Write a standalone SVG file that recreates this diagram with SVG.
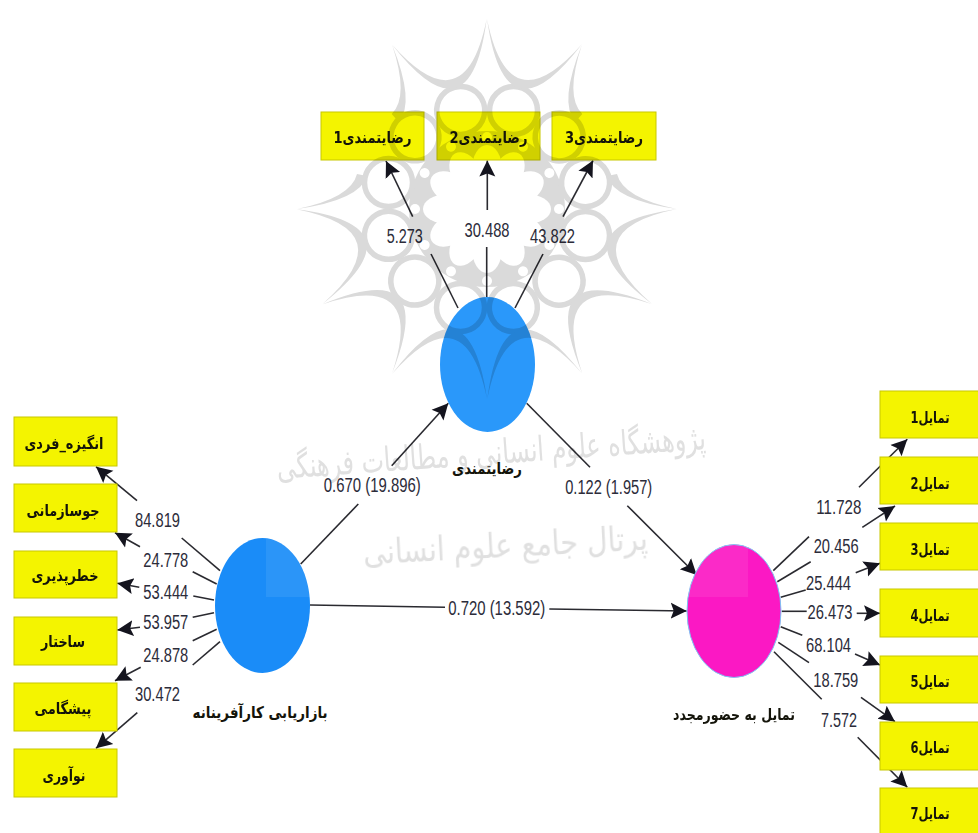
<svg xmlns="http://www.w3.org/2000/svg" xmlns:xlink="http://www.w3.org/1999/xlink" width="978" height="833" viewBox="0 0 978 833">
<style>
.c{stroke:#2a2a30;stroke-width:1.6;fill:none}
.a{marker-end:url(#ah)}
.box{fill:#f4f400;stroke:#c8c800;stroke-width:1}
.n{font-family:"Liberation Sans",Arial,sans-serif;font-size:20px;fill:#2c2c3a;text-anchor:middle}
.t{font-family:"DejaVu Sans",sans-serif;font-size:16px;font-weight:bold;fill:#14140a;text-anchor:middle;direction:rtl}
.wm{mix-blend-mode:multiply}
.wt{font-family:"DejaVu Sans",sans-serif;font-size:34px;fill:#e0e0e0;text-anchor:middle;direction:rtl}
.g{fill:#dadada}
.r{fill:none;stroke:#dadada;stroke-width:5.5}
.sh{fill:#fff;fill-opacity:.08}
.soft{filter:blur(.55px)}
</style>
<defs>
<marker id="ah" markerUnits="userSpaceOnUse" markerWidth="18" markerHeight="18" refX="16" refY="9" orient="auto">
<path d="M0,1 L16,9 L0,17 L3,9 Z" fill="#14141e"/>
</marker>
<clipPath id="cpL"><ellipse cx="262.5" cy="605.5" rx="47.5" ry="67.5"/></clipPath>
<clipPath id="cpP"><ellipse cx="734" cy="611" rx="47" ry="66.5"/></clipPath>
<path id="cr" class="g" d="M0,-190 Q22,-82 95,-165 Q18,-64 0,-190 Z"/>
<path id="hc" class="g" d="M0,-190 Q11,-136 35,-130 L33,-120 Q9,-127 0,-190 Z"/>
<circle id="rc" class="r" cx="26.5" cy="-98.5" r="24"/>
<g id="pet">
<ellipse cx="0" cy="-40" rx="15" ry="24" fill="#fff"/>
<circle cx="0" cy="-72" r="5" fill="#fff"/>
</g>
</defs>

<g id="diagram" class="soft">
<rect x="0" y="0" width="978" height="833" fill="#fff"/>
<g id="connectors">
<line class="c" x1="431" y1="254" x2="458" y2="308"/>
<line class="c a" x1="412.7" y1="216.7" x2="386" y2="161"/>
<line class="c" x1="486.7" y1="247" x2="486.7" y2="297"/>
<line class="c a" x1="487.3" y1="210" x2="487.3" y2="160.5"/>
<line class="c" x1="543" y1="254" x2="515" y2="308"/>
<line class="c a" x1="563" y1="216.7" x2="593" y2="160.5"/>

<line class="c" x1="220" y1="570.7" x2="181.7" y2="538"/>
<line class="c a" x1="137" y1="500.7" x2="96" y2="466.7"/>
<line class="c" x1="216.7" y1="584" x2="192.7" y2="571.7"/>
<line class="c a" x1="140" y1="546.7" x2="115" y2="532.7"/>
<line class="c" x1="214" y1="600" x2="193.3" y2="596"/>
<line class="c a" x1="139.3" y1="587.3" x2="117.3" y2="583.3"/>
<line class="c" x1="214" y1="612.7" x2="192.7" y2="617.3"/>
<line class="c a" x1="140" y1="627.3" x2="117.3" y2="630"/>
<line class="c" x1="216.7" y1="629.3" x2="192.7" y2="640.7"/>
<line class="c a" x1="140.7" y1="667.3" x2="115" y2="680.7"/>
<line class="c" x1="220" y1="641.7" x2="192.7" y2="665"/>
<line class="c a" x1="137.3" y1="712.7" x2="96" y2="748.3"/>

<line class="c" x1="773.3" y1="570.7" x2="809" y2="536.7"/>
<line class="c a" x1="859" y1="487.3" x2="907.3" y2="439.3"/>
<line class="c" x1="777.3" y1="581.7" x2="810.7" y2="561.7"/>
<line class="c a" x1="862.3" y1="527.3" x2="895" y2="506"/>
<line class="c" x1="780.7" y1="597.3" x2="805.7" y2="590"/>
<line class="c a" x1="855.7" y1="572.7" x2="880" y2="563.3"/>
<line class="c" x1="781.7" y1="611.3" x2="806.7" y2="611.3"/>
<line class="c a" x1="856.7" y1="613.3" x2="880" y2="613.3"/>
<line class="c" x1="780.7" y1="626.7" x2="802.3" y2="635.3"/>
<line class="c a" x1="855" y1="654" x2="880" y2="665"/>
<line class="c" x1="778.3" y1="642.3" x2="809" y2="662.7"/>
<line class="c a" x1="861" y1="697.3" x2="895" y2="721.7"/>
<line class="c" x1="774" y1="651.7" x2="821.7" y2="699.3"/>
<line class="c a" x1="857.7" y1="737.3" x2="907.3" y2="787.3"/>

<line class="c" x1="526.7" y1="403.3" x2="590" y2="467.3"/>
<line class="c a" x1="627.3" y1="505.7" x2="696.7" y2="575"/>
<line class="c" x1="300.7" y1="564" x2="358.3" y2="504"/>
<line class="c a" x1="391.7" y1="465.7" x2="448.3" y2="403.3"/>
<line class="c" x1="310" y1="605" x2="445" y2="607.3"/>
<line class="c a" x1="549.3" y1="609" x2="686.7" y2="611"/>

<text class="n" x="404.7" y="243" textLength="36" lengthAdjust="spacingAndGlyphs">5.273</text>
<text class="n" x="487" y="237" textLength="45" lengthAdjust="spacingAndGlyphs">30.488</text>
<text class="n" x="552.5" y="243" textLength="45" lengthAdjust="spacingAndGlyphs">43.822</text>
<text class="n" x="157.5" y="527" textLength="45" lengthAdjust="spacingAndGlyphs">84.819</text>
<text class="n" x="165.8" y="566.5" textLength="45" lengthAdjust="spacingAndGlyphs">24.778</text>
<text class="n" x="165.8" y="599" textLength="45" lengthAdjust="spacingAndGlyphs">53.444</text>
<text class="n" x="165.8" y="628.5" textLength="45" lengthAdjust="spacingAndGlyphs">53.957</text>
<text class="n" x="165.8" y="662" textLength="45" lengthAdjust="spacingAndGlyphs">24.878</text>
<text class="n" x="157.5" y="701" textLength="45" lengthAdjust="spacingAndGlyphs">30.472</text>
<text class="n" x="838.8" y="513.5" textLength="45" lengthAdjust="spacingAndGlyphs">11.728</text>
<text class="n" x="836.2" y="552.5" textLength="45" lengthAdjust="spacingAndGlyphs">20.456</text>
<text class="n" x="828.5" y="590" textLength="45" lengthAdjust="spacingAndGlyphs">25.444</text>
<text class="n" x="830" y="619" textLength="45" lengthAdjust="spacingAndGlyphs">26.473</text>
<text class="n" x="828.5" y="651.5" textLength="45" lengthAdjust="spacingAndGlyphs">68.104</text>
<text class="n" x="835.8" y="687" textLength="45" lengthAdjust="spacingAndGlyphs">18.759</text>
<text class="n" x="839" y="726.5" textLength="36" lengthAdjust="spacingAndGlyphs">7.572</text>
<text class="n" x="372.3" y="492" textLength="97" lengthAdjust="spacingAndGlyphs">0.670 (19.896)</text>
<text class="n" x="608.7" y="494" textLength="87" lengthAdjust="spacingAndGlyphs">0.122 (1.957)</text>
<text class="n" x="496.7" y="615" textLength="97" lengthAdjust="spacingAndGlyphs">0.720 (13.592)</text>
</g>

<g id="node-satisfaction">
<ellipse cx="487.5" cy="364.5" rx="47.5" ry="67.5" fill="#2a98fa"/>
<text class="t" x="487" y="474" textLength="70" lengthAdjust="spacingAndGlyphs">رضایتمندی</text>
</g>
<g id="node-marketing">
<ellipse cx="262.5" cy="605.5" rx="47.5" ry="67.5" fill="#1a8cf8"/>
<rect class="sh" x="266" y="520" width="50" height="77" clip-path="url(#cpL)"/>
<text class="t" x="260" y="718" textLength="135" lengthAdjust="spacingAndGlyphs">بازاریابی کارآفرینانه</text>
</g>
<g id="node-revisit">
<ellipse cx="734" cy="611" rx="47" ry="66.5" fill="#fb18c4" stroke="#7cc4f4" stroke-width="1"/>
<rect class="sh" x="680" y="540" width="68" height="57" clip-path="url(#cpP)"/>
<text class="t" x="734" y="720" textLength="122" lengthAdjust="spacingAndGlyphs">تمایل به حضورمجدد</text>
</g>

<g id="s1"><rect class="box" x="321" y="112" width="103" height="48"/><text class="t" x="372.5" y="143" textLength="78" lengthAdjust="spacingAndGlyphs">رضایتمندی1</text></g>
<g id="s2"><rect class="box" x="437" y="112" width="103" height="48"/><text class="t" x="488.5" y="143" textLength="78" lengthAdjust="spacingAndGlyphs">رضایتمندی2</text></g>
<g id="s3"><rect class="box" x="552" y="112" width="104" height="48"/><text class="t" x="604" y="143" textLength="78" lengthAdjust="spacingAndGlyphs">رضایتمندی3</text></g>

<g id="m1"><rect class="box" x="14" y="417" width="103" height="49"/><text class="t" x="64" y="449" textLength="79" lengthAdjust="spacingAndGlyphs">انگیزه_فردی</text></g>
<g id="m2"><rect class="box" x="14" y="484" width="103" height="48"/><text class="t" x="63" y="516" textLength="73" lengthAdjust="spacingAndGlyphs">جوسازمانی</text></g>
<g id="m3"><rect class="box" x="14" y="551" width="103" height="47"/><text class="t" x="65" y="581" textLength="67" lengthAdjust="spacingAndGlyphs">خطرپذیری</text></g>
<g id="m4"><rect class="box" x="14" y="617" width="103" height="48"/><text class="t" x="63" y="647" textLength="44" lengthAdjust="spacingAndGlyphs">ساختار</text></g>
<g id="m5"><rect class="box" x="14" y="683" width="103" height="48"/><text class="t" x="63" y="714" textLength="57" lengthAdjust="spacingAndGlyphs">پیشگامی</text></g>
<g id="m6"><rect class="box" x="14" y="749" width="103" height="48"/><text class="t" x="64" y="781" textLength="43" lengthAdjust="spacingAndGlyphs">نوآوری</text></g>

<g id="r1"><rect class="box" x="880" y="391" width="99" height="47"/><text class="t" x="930" y="423" textLength="39" lengthAdjust="spacingAndGlyphs">تمایل1</text></g>
<g id="r2"><rect class="box" x="880" y="457" width="99" height="47"/><text class="t" x="930" y="489" textLength="39" lengthAdjust="spacingAndGlyphs">تمایل2</text></g>
<g id="r3"><rect class="box" x="880" y="523" width="99" height="47"/><text class="t" x="930" y="555" textLength="39" lengthAdjust="spacingAndGlyphs">تمایل3</text></g>
<g id="r4"><rect class="box" x="880" y="589" width="99" height="48"/><text class="t" x="930" y="621" textLength="39" lengthAdjust="spacingAndGlyphs">تمایل4</text></g>
<g id="r5"><rect class="box" x="880" y="656" width="99" height="47"/><text class="t" x="930" y="687" textLength="39" lengthAdjust="spacingAndGlyphs">تمایل5</text></g>
<g id="r6"><rect class="box" x="880" y="722" width="99" height="48"/><text class="t" x="930" y="753" textLength="39" lengthAdjust="spacingAndGlyphs">تمایل6</text></g>
<g id="r7"><rect class="box" x="880" y="788" width="99" height="46"/><text class="t" x="930" y="819" textLength="39" lengthAdjust="spacingAndGlyphs">تمایل7</text></g>

<g id="watermark" class="wm">
<g transform="translate(487,209)">
<circle class="g" r="78"/>
<use href="#pet"/><use href="#pet" transform="rotate(30)"/><use href="#pet" transform="rotate(60)"/><use href="#pet" transform="rotate(90)"/><use href="#pet" transform="rotate(120)"/><use href="#pet" transform="rotate(150)"/><use href="#pet" transform="rotate(180)"/><use href="#pet" transform="rotate(210)"/><use href="#pet" transform="rotate(240)"/><use href="#pet" transform="rotate(270)"/><use href="#pet" transform="rotate(300)"/><use href="#pet" transform="rotate(330)"/>
<circle r="30" fill="#fff"/>
<use href="#rc"/><use href="#rc" transform="rotate(30)"/><use href="#rc" transform="rotate(60)"/><use href="#rc" transform="rotate(90)"/><use href="#rc" transform="rotate(120)"/><use href="#rc" transform="rotate(150)"/><use href="#rc" transform="rotate(180)"/><use href="#rc" transform="rotate(210)"/><use href="#rc" transform="rotate(240)"/><use href="#rc" transform="rotate(270)"/><use href="#rc" transform="rotate(300)"/><use href="#rc" transform="rotate(330)"/>
<use href="#cr"/><use href="#cr" transform="rotate(90)"/><use href="#cr" transform="rotate(120)"/><use href="#cr" transform="rotate(150)"/><use href="#cr" transform="rotate(180)"/><use href="#cr" transform="rotate(210)"/><use href="#cr" transform="rotate(240)"/><use href="#cr" transform="rotate(330)"/>
<use href="#hc" transform="rotate(30)"/><use href="#hc" transform="rotate(90) scale(-1,1)"/><use href="#hc" transform="rotate(270)"/><use href="#hc" transform="rotate(330) scale(-1,1)"/>
</g>
<text class="wt" transform="translate(492,464) rotate(-4)" textLength="430" lengthAdjust="spacingAndGlyphs">پژوهشگاه علوم انسانی و مطالعات فرهنگی</text>
<text class="wt" transform="translate(506,557) rotate(-3)" textLength="285" lengthAdjust="spacingAndGlyphs">پرتال جامع علوم انسانی</text>
</g>
</g>
</svg>
